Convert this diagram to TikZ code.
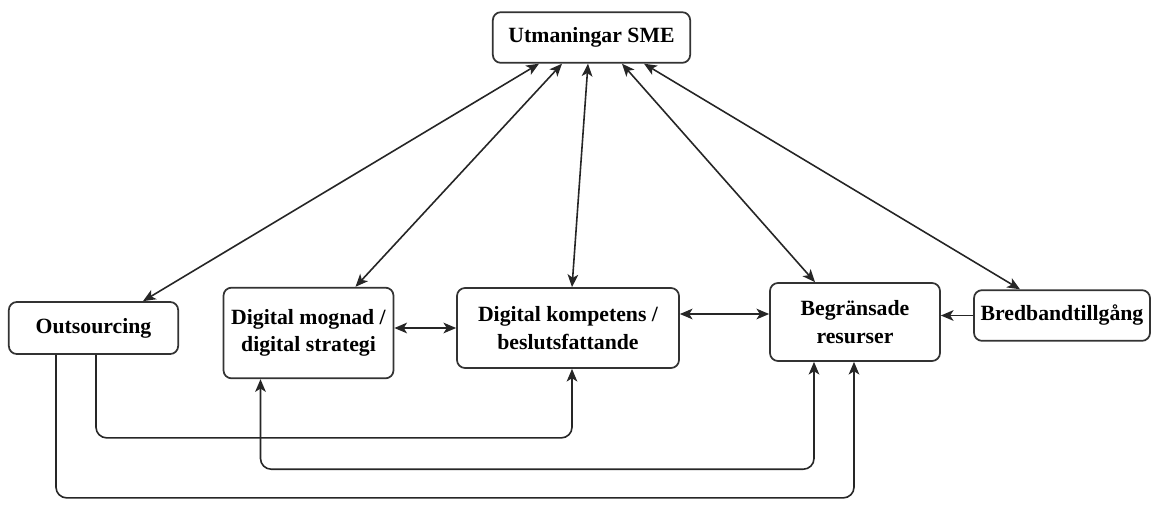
\documentclass[tikz,border=0pt]{standalone}
\usepackage{fontspec}
\setmainfont{Liberation Serif}
\usetikzlibrary{arrows.meta,calc}
\begin{document}
\begin{tikzpicture}[x=0.75pt,y=-0.75pt,
  box/.style={draw=black!80,line width=1.3pt,rounded corners=6pt,fill=white,
    align=center,inner sep=0pt,font=\bfseries\fontsize{16.3}{20.5}\selectfont},
  tip/.style={Stealth[length=9.5pt,width=8pt,inset=2.5pt]},
  link/.style={line width=1.2pt,draw=black!85,-{Stealth[length=9.5pt,width=8pt,inset=2.5pt]}},
  blink/.style={line width=1.2pt,draw=black!85,
    {Stealth[length=9.5pt,width=8pt,inset=2.5pt]}-{Stealth[length=9.5pt,width=8pt,inset=2.5pt]}},
  routed/.style={rounded corners=8pt}]
\useasboundingbox (0,0) rectangle (1161,529);

% boxes
\node[box,minimum width=148pt,minimum height=38pt] (top) at (591.5,37.5) {Utmaningar SME};
\node[box,minimum width=127pt,minimum height=39pt] (out) at (93.5,328) {Outsourcing};
\node[box,minimum width=127.5pt,minimum height=68pt] (mog) at (308.5,333) {Digital mognad /\\digital strategi};
\node[box,minimum width=166.5pt,minimum height=60pt] (kom) at (568,328) {Digital kompetens /\\beslutsfattande};
\node[box,minimum width=127.5pt,minimum height=58.5pt] (beg) at (855,322) {Begränsade\\resurser};
\node[box,minimum width=132pt,minimum height=38pt] (bre) at (1062,315.5) {Bredbandtillgång};

% connectors to the top box
\draw[blink] ($(top.south)+(-52.5,0)$) -- ($(out.north)+(49.5,0)$);
\draw[blink] ($(top.south)+(-29.5,0)$) -- ($(mog.north)+(47,0)$);
\draw[blink] ($(top.south)+(-3.5,0)$) -- ($(kom.north)+(4,0)$);
\draw[blink] ($(top.south)+(30.5,0)$) -- ($(beg.north)+(-40,0)$);
\draw[blink] ($(top.south)+(52.5,0)$) -- ($(bre.north)+(-42,0)$);

% links between neighbouring boxes
\draw[blink] (kom.west -| mog.east) -- (kom.west);
\coordinate (k1) at ($(kom.east)+(0,-14)$);
\draw[blink] (k1) -- (k1 -| beg.west);
\draw[link] (bre.west) -- (bre.west -| beg.east);

% routed links underneath
\coordinate (o1) at ($(out.south)+(2.5,0)$);
\coordinate (o2) at ($(out.south)+(-37.5,0)$);
\coordinate (m1) at ($(mog.south)+(-48,0)$);
\coordinate (k2) at ($(kom.south)+(4,0)$);
\coordinate (b1) at ($(beg.south)+(-41,0)$);
\coordinate (b2) at ($(beg.south)+(-1,0)$);
\draw[link,routed] (o1) -- ++(0,83) -| (k2);
\draw[blink,routed] (m1) -- ++(0,90) -| (b1);
\draw[link,routed] (o2) -- ++(0,143) -| (b2);
\end{tikzpicture}
\end{document}
